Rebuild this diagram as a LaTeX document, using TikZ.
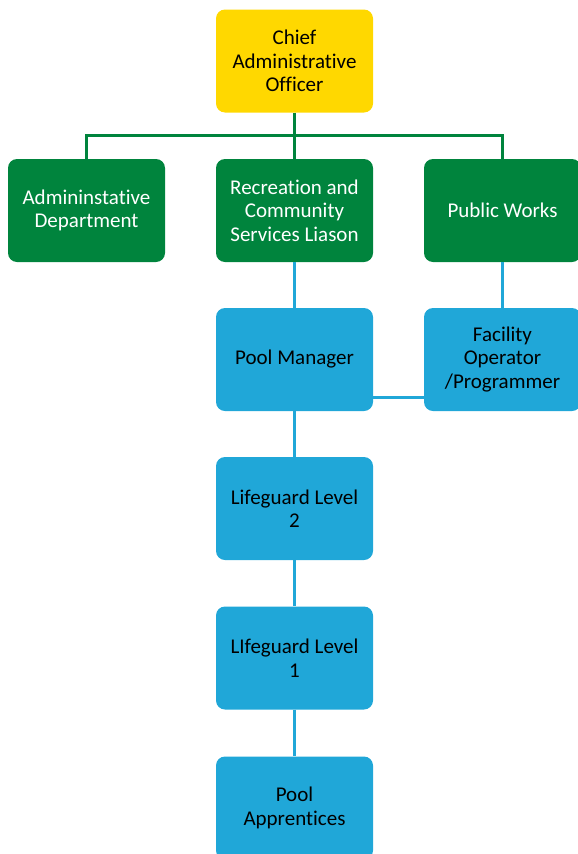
\documentclass[tikz,border=0pt]{standalone}
\usepackage{fontspec}
\setmainfont[Ligatures=NoCommon]{Carlito}
\usepackage{tikz}
\usetikzlibrary{positioning}
\usetikzlibrary{calc}
\definecolor{caoyellow}{HTML}{FFD800}
\definecolor{orggreen}{HTML}{00843D}
\definecolor{poolblue}{HTML}{20A7D8}
\tikzset{
  post/.style={rounded corners=9pt, minimum width=157pt, minimum height=103pt,
    inner sep=0pt, align=center, font=\fontsize{21}{23.5}\selectfont},
  chief/.style={post, fill=caoyellow, text=black},
  dept/.style={post, fill=orggreen, text=white},
  staff/.style={post, fill=poolblue, text=black},
  greenline/.style={draw=orggreen, line width=3pt},
  blueline/.style={draw=poolblue, line width=2.6pt}
}
\begin{document}
\begin{tikzpicture}[x=1pt,y=-1pt]
\useasboundingbox (0,0) rectangle (578,854);
\node[chief] (cao) at (294.5,61) {Chief\\Administrative\\Officer};
\node[dept] (admin) at (86.5,210.5) {Admininstative\\Department};
\node[dept] (rec) at (294.5,210.5) {Recreation and\\Community\\Services Liason};
\node[dept] (works) at (502.5,210.5) {Public Works};
\node[staff] (pm) at (294.5,359.5) {Pool Manager};
\node[staff] (fac) at (502.5,359.5) {Facility\\Operator\\/Programmer};
\node[staff] (lg2) at (294.5,508.5) {Lifeguard Level\\2};
\node[staff] (lg1) at (294.5,658) {LIfeguard Level\\1};
\node[staff] (appr) at (294.5,808) {Pool\\Apprentices};
% green tree
\coordinate (bus) at ($(cao.south)!0.5!(rec.north)$);
\draw[greenline] (cao.south) -- (rec.north);
\draw[greenline] (admin.north) -- (admin.north |- bus) -- (works.north |- bus) -- (works.north);
% blue lines
\draw[blueline] (rec.south) -- (pm.north);
\draw[blueline] (works.south) -- (fac.north);
\foreach \a/\b in {pm/lg2,lg2/lg1,lg1/appr}
  \draw[blueline] (\a.south) -- (\b.north);
\coordinate (link) at ([yshift=14pt]pm.south east);
\draw[blueline] (link) -- (fac.west |- link);
\end{tikzpicture}
\end{document}
